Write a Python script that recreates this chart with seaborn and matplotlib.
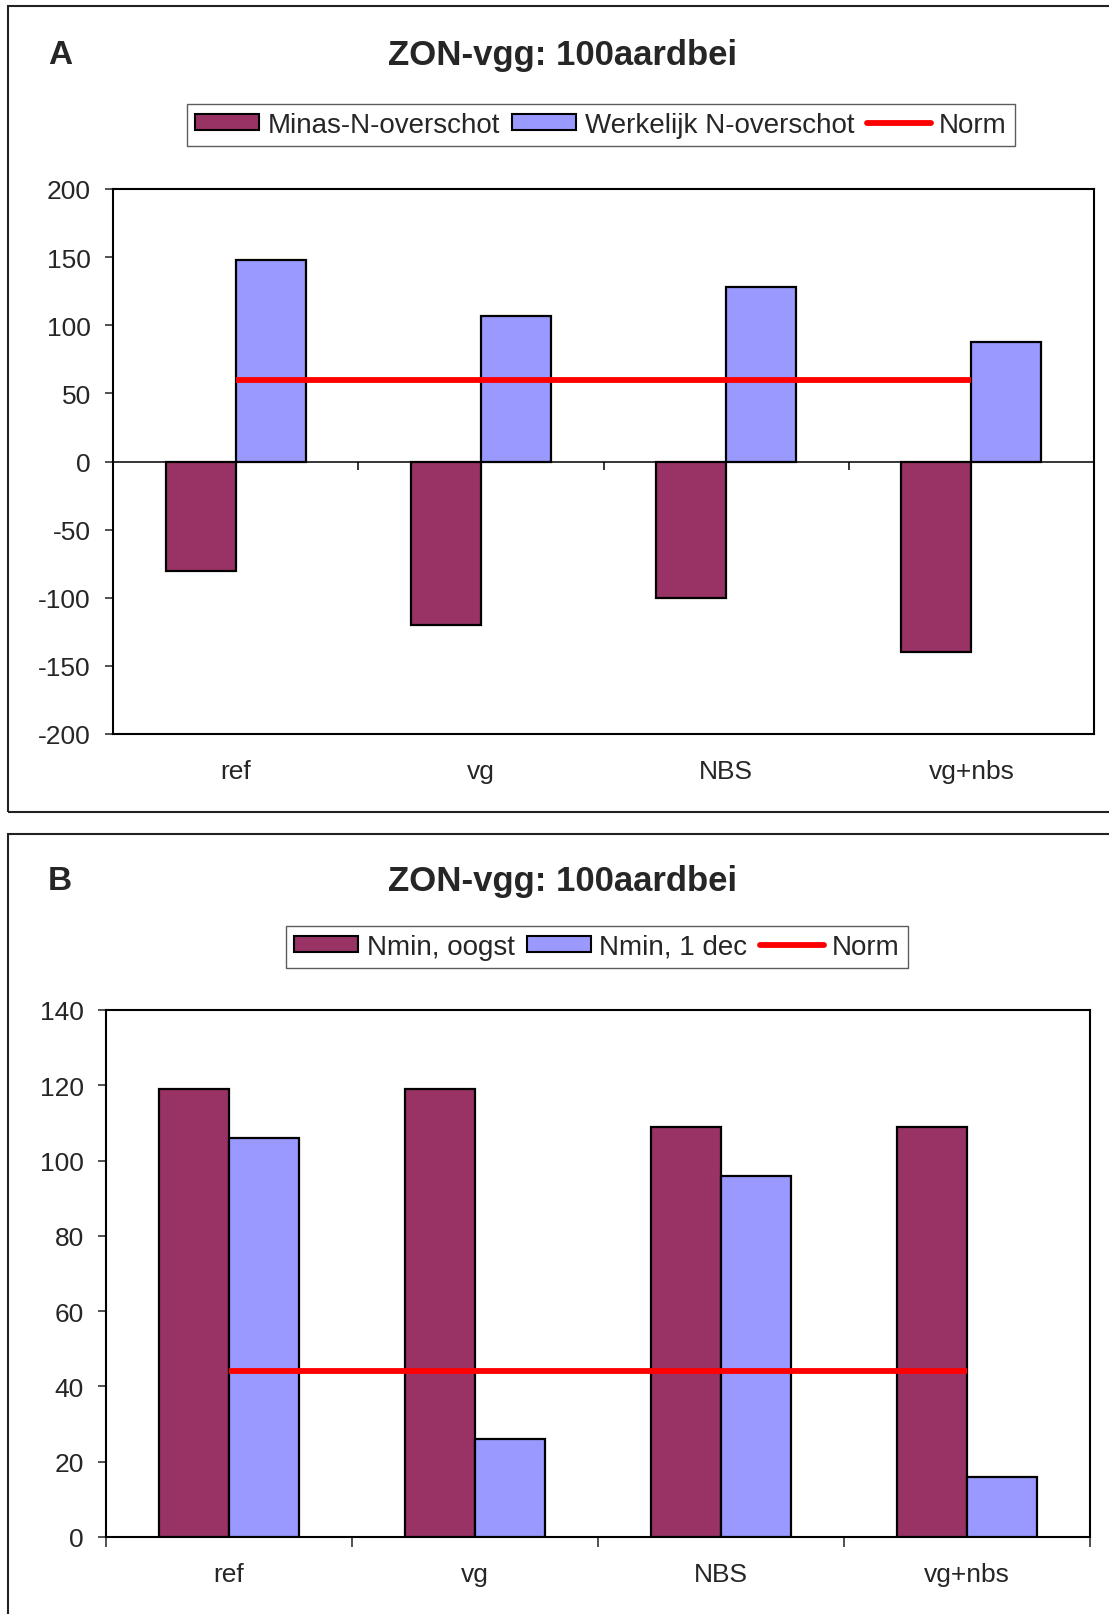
import numpy as np
import pandas as pd
import matplotlib
matplotlib.use("Agg")
import matplotlib.pyplot as plt
from matplotlib.patches import Patch, Rectangle
from matplotlib.lines import Line2D
import seaborn as sns

# ---------------- data ----------------
categories = ["ref", "vg", "NBS", "vg+nbs"]
title = "ZON-vgg: 100aardbei"

a_series = ["Minas-N-overschot", "Werkelijk N-overschot"]
a_minas = [-80, -120, -100, -140]
a_werkelijk = [148, 107, 128, 88]
a_norm = [60, 60, 60, 60]
a_yticks = [200, 150, 100, 50, 0, -50, -100, -150, -200]

b_series = ["Nmin, oogst", "Nmin, 1 dec"]
b_oogst = [119, 119, 109, 109]
b_dec = [106, 26, 96, 16]
b_norm = [44, 44, 44, 44]
b_yticks = [0, 20, 40, 60, 80, 100, 120, 140]

colors = ["#993366", "#9999FF"]
norm_color = "#FF0000"

# ---------------- style ----------------
sns.set_theme(style="white")
plt.rcParams["font.family"] = ["Liberation Sans", "DejaVu Sans"]

W, H = 1109, 1615
fig = plt.figure(figsize=(W / 100, H / 100), dpi=100)
fig.patch.set_facecolor("white")

FS = 19
LFS = 20


def fx(px):
    return px / W


def fy(py):
    return 1 - py / H


def make_df(series_names, s1, s2):
    return pd.DataFrame({
        "cat": categories * 2,
        "series": [series_names[0]] * len(categories) + [series_names[1]] * len(categories),
        "value": list(s1) + list(s2),
    })


def draw_panel(rect, df, series_names, norm, ylim, yticks, letter, title_y,
               legend_center, zero_line):
    ax = fig.add_axes(rect)
    sns.barplot(data=df, x="cat", y="value", hue="series", order=categories,
                hue_order=series_names, palette=colors, saturation=1,
                width=0.571, edgecolor="black", linewidth=1.6,
                errorbar=None, legend=False, ax=ax, zorder=3)
    x = np.arange(len(categories))
    ax.plot(x, norm, color=norm_color, lw=4.2, solid_capstyle="butt", zorder=5)
    ax.set_xlim(-0.5, len(categories) - 0.5)
    ax.set_ylim(*ylim)
    ax.set_yticks(yticks)
    ax.set_yticklabels([str(t) for t in yticks], fontsize=FS)
    ax.set_xlabel("")
    ax.set_ylabel("")
    for sp in ax.spines.values():
        sp.set_visible(True)
        sp.set_color("black")
        sp.set_linewidth(1.5)
    ax.tick_params(axis="y", which="major", direction="out", length=6, width=1.2,
                   color="#333333", pad=10, left=True, labelsize=FS)
    ax.set_xticks(x)
    ax.set_xticklabels(categories, fontsize=FS)
    ax.grid(False)
    bounds = np.arange(len(categories) + 1) - 0.5
    if zero_line:
        ax.axhline(0, color="black", lw=1.1, zorder=2)
        ax.tick_params(axis="x", which="major", length=0, pad=18, labelsize=FS)
        yr = ylim[1] - ylim[0]
        ax.vlines(bounds[1:-1], 0, -yr * 0.016, color="black", lw=1.1, zorder=2)
    else:
        ax.set_xticks(bounds, minor=True)
        ax.tick_params(axis="x", which="major", length=0, pad=18, labelsize=FS)
        ax.tick_params(axis="x", which="minor", direction="out", length=7,
                       width=1.2, color="#333333", bottom=True)
    # panel letter + title
    fig.text(fx(48), fy(title_y), letter, ha="left", va="center",
             fontsize=24, fontweight="bold")
    fig.text(fx(563), fy(title_y), title, ha="center", va="center",
             fontsize=25, fontweight="bold")
    handles = [Patch(facecolor=colors[0], edgecolor="black", lw=1.5),
               Patch(facecolor=colors[1], edgecolor="black", lw=1.5),
               Line2D([], [], color=norm_color, lw=4.2)]
    labels = list(series_names) + ["Norm"]
    leg = fig.legend(handles, labels, loc="center",
                     bbox_to_anchor=(fx(legend_center[0]), fy(legend_center[1])),
                     ncol=3, frameon=True, fancybox=False, fontsize=LFS,
                     handlelength=2.3, handleheight=0.5, handletextpad=0.3,
                     columnspacing=0.45, borderpad=0.3, borderaxespad=0)
    leg.get_frame().set_edgecolor("#333333")
    leg.get_frame().set_linewidth(1.0)
    return ax


# panel borders (right/bottom run off the image as in the source)
fig.patches.append(Rectangle((fx(8), fy(813)), (1130 - 8) / W, (813 - 7) / H,
                             transform=fig.transFigure, fill=False,
                             edgecolor="#222222", lw=1.5))
fig.patches.append(Rectangle((fx(8), fy(1650)), (1130 - 8) / W, (1650 - 835) / H,
                             transform=fig.transFigure, fill=False,
                             edgecolor="#222222", lw=1.5))

dfA = make_df(a_series, a_minas, a_werkelijk)
draw_panel([fx(113), fy(735), (1094 - 113) / W, (735 - 190) / H], dfA, a_series,
           a_norm, (-200, 200), a_yticks, "A", 55, (601, 126), True)

dfB = make_df(b_series, b_oogst, b_dec)
draw_panel([fx(106), fy(1538), (1090 - 106) / W, (1538 - 1011) / H], dfB, b_series,
           b_norm, (0, 140), b_yticks, "B", 882, (597, 948), False)

fig.savefig("out.png", dpi=100, facecolor="white")
